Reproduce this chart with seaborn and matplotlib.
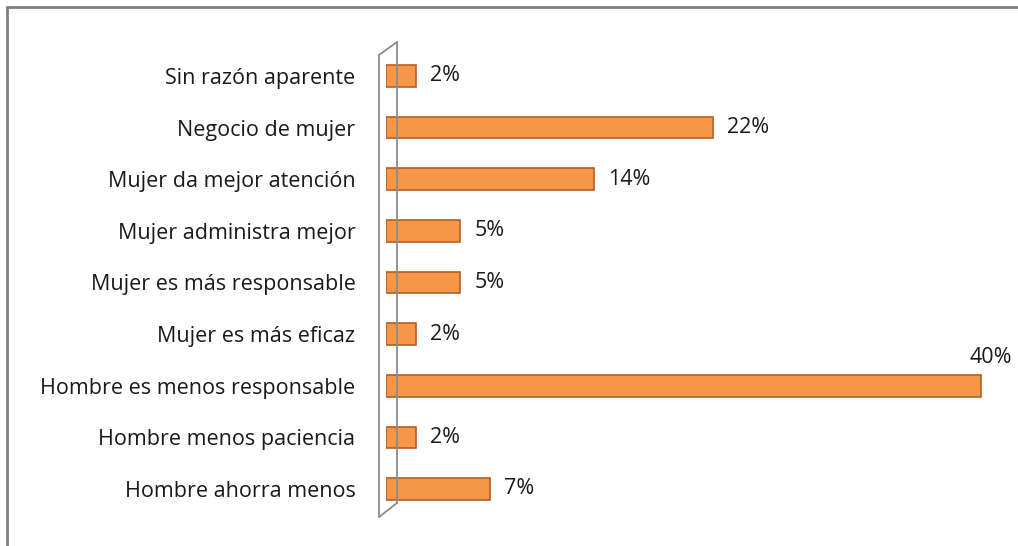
import matplotlib
matplotlib.use('Agg')
import matplotlib.pyplot as plt
import seaborn as sns
from matplotlib.lines import Line2D

# datos
categorias = ['Sin razón aparente', 'Negocio de mujer', 'Mujer da mejor atención',
              'Mujer administra mejor', 'Mujer es más responsable', 'Mujer es más eficaz',
              'Hombre es menos responsable', 'Hombre menos paciencia', 'Hombre ahorra menos']
valores = [2, 22, 14, 5, 5, 2, 40, 2, 7]
etiquetas = ['2%', '22%', '14%', '5%', '5%', '2%', '40%', '2%', '7%']

sns.set_style('white')
plt.rcParams['font.family'] = ['Open Sans', 'DejaVu Sans']

fig = plt.figure(figsize=(10.18, 5.46), dpi=100)
ax = fig.add_axes([386/1018, 0.0288, 632/1018, 0.9077])

sns.barplot(x=valores, y=categorias, orient='h', color='#F79646', width=0.42,
            edgecolor='#B85E22', linewidth=1.2, saturation=1, ax=ax)

ax.set_xlim(0, 632/14.875)
ax.set_ylim(8.8, -0.8)
ax.set_xticks([])
ax.set_xlabel('')
ax.set_ylabel('')
for s in ax.spines.values():
    s.set_visible(False)
ax.tick_params(axis='y', length=0, pad=22, labelsize=15.5, labelcolor='#1a1a1a')

# etiquetas de datos
for i, (v, t) in enumerate(zip(valores, etiquetas)):
    if v == max(valores):
        ax.annotate(t, (v, i), xytext=(7, 20), textcoords='offset points',
                    ha='center', va='center', fontsize=15.5, color='#1a1a1a')
    else:
        ax.annotate(t, (v, i), xytext=(10, 0), textcoords='offset points',
                    ha='left', va='center', fontsize=15.5, color='#1a1a1a')

# pared 3D
H = 546
def px(x, y):
    return x/1018, (H - y)/H
wall = '#8c8c8c'
for (x0, y0), (x1, y1) in [((379, 55), (397, 42)), ((397, 42), (397, 503)),
                           ((379, 55), (379, 517)), ((379, 517), (397, 503))]:
    a, b = px(x0, y0)
    c, d = px(x1, y1)
    fig.add_artist(Line2D([a, c], [b, d], color=wall, lw=1.3))

# marco
fig.add_artist(Line2D([7/1018, 1], [1 - 7/H, 1 - 7/H], color='#808080', lw=2))
fig.add_artist(Line2D([7/1018, 7/1018], [0, 1 - 7/H], color='#808080', lw=2))

fig.savefig('out.png', dpi=100)
